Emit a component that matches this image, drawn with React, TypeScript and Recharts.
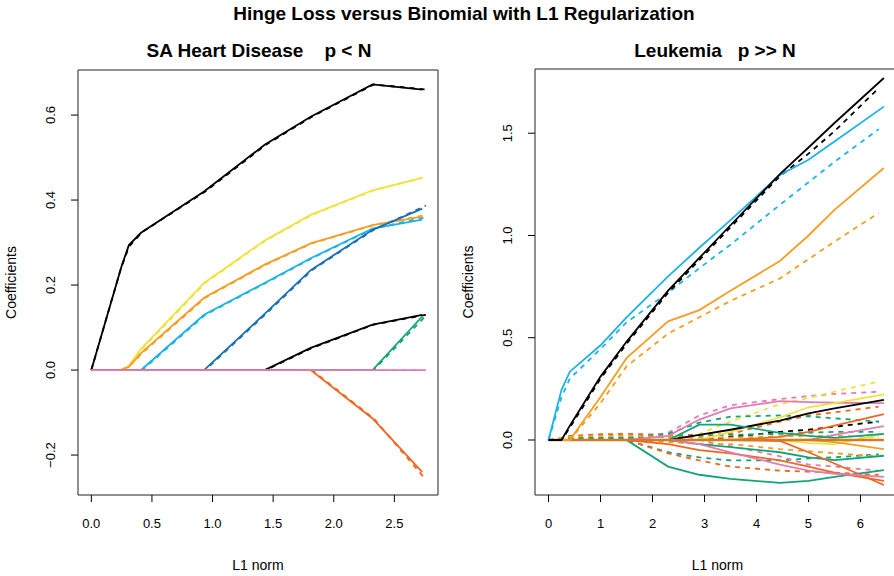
import React from 'react';
import { LineChart, Line, XAxis, YAxis, ReferenceArea } from 'recharts';

// ---- SA Heart Disease (p < N) ----
const HEART_L1 = [0, 0.25, 0.31, 0.41, 0.93, 1.43, 1.81, 2.32, 2.73];
const HEART_L1_BIN = [0, 0.24, 0.31, 0.42, 0.94, 1.44, 1.82, 2.33, 2.76];

const heartBlack = [0, 0.245, 0.294, 0.323, 0.42, 0.53, 0.596, 0.672, 0.66];
const heartYellow = [0, 0, 0.01, 0.05, 0.205, 0.305, 0.365, 0.423, 0.452];
const heartOrange = [0, 0, 0.008, 0.04, 0.17, 0.248, 0.298, 0.341, 0.361];
const heartSky = [0, 0, 0, 0, 0.13, 0.205, 0.263, 0.333, 0.354];
const heartBlue = [0, 0, 0, 0, 0, 0.132, 0.235, 0.33, 0.38];
const heartBlack2 = [0, 0, 0, 0, 0, 0, 0.052, 0.107, 0.13];
const heartGreen = [0, 0, 0, 0, 0, 0, 0, 0, 0.126];
const heartRed = [0, 0, 0, 0, 0, 0, 0, -0.114, -0.24];
const heartPink = [0, 0, 0, 0, 0, 0, 0, 0, 0];

const heartBlackBin = [0, 0.235, 0.29, 0.325, 0.42, 0.53, 0.596, 0.672, 0.66];
const heartYellowBin = [0, 0, 0.01, 0.05, 0.205, 0.305, 0.365, 0.423, 0.455];
const heartOrangeBin = [0, 0, 0.008, 0.04, 0.17, 0.248, 0.298, 0.341, 0.365];
const heartSkyBin = [0, 0, 0, 0, 0.13, 0.205, 0.263, 0.333, 0.36];
const heartBlueBin = [0, 0, 0, 0, 0, 0.132, 0.235, 0.33, 0.387];
const heartBlack2Bin = [0, 0, 0, 0, 0, 0, 0.052, 0.107, 0.13];
const heartGreenBin = [0, 0, 0, 0, 0, 0, 0, 0, 0.128];
const heartRedBin = [0, 0, 0, 0, 0, 0, 0, -0.114, -0.258];

const HEART_X_TICKS = [0, 0.5, 1, 1.5, 2, 2.5];
const HEART_X_LABELS = ['0.0', '0.5', '1.0', '1.5', '2.0', '2.5'];
const HEART_Y_TICKS = [-0.2, 0, 0.2, 0.4, 0.6];
const HEART_Y_LABELS = ['\u22120.2', '0.0', '0.2', '0.4', '0.6'];

// ---- Leukemia (p >> N) ----
const LEUK_L1 = [0, 0.25, 0.41, 1.0, 1.5, 2.3, 2.9, 3.5, 4.45, 5.0, 5.5, 6.45];
const LEUK_L1_BIN = [0, 0.25, 0.41, 1.0, 1.5, 2.3, 2.9, 3.5, 4.45, 5.0, 5.5, 6.35];

const leukBlack = [0, 0, 0.07, 0.31, 0.48, 0.73, 0.89, 1.05, 1.3, 1.43, 1.55, 1.77];
const leukBlackBin = [0, 0, 0.06, 0.3, 0.47, 0.72, 0.88, 1.04, 1.29, 1.4, 1.51, 1.72];
const leukSky = [0, 0.245, 0.334, 0.463, 0.6, 0.8, 0.94, 1.075, 1.296, 1.37, 1.46, 1.63];
const leukSkyBin = [0, 0.21, 0.3, 0.445, 0.575, 0.72, 0.84, 0.955, 1.15, 1.26, 1.36, 1.52];
const leukOrange = [0, 0, 0, 0.21, 0.4, 0.58, 0.635, 0.73, 0.875, 1.0, 1.125, 1.33];
const leukOrangeBin = [0, 0, 0, 0.18, 0.36, 0.52, 0.6, 0.68, 0.79, 0.884, 0.97, 1.11];

const leukPinkUp = [0, 0, 0, 0, 0, 0.02, 0.1, 0.155, 0.19, 0.185, 0.182, 0.18];
const leukPinkUpBin = [0, 0, 0, 0, 0.005, 0.035, 0.12, 0.17, 0.2, 0.215, 0.225, 0.236];
const leukYellowUp = [0, 0, 0, 0, 0, 0, 0, 0.04, 0.11, 0.16, 0.18, 0.223];
const leukYellowUpBin = [0, 0, 0, 0, 0, 0, 0.03, 0.09, 0.175, 0.205, 0.237, 0.285];
const leukYellowLow = [0, 0, 0, 0, 0, 0, 0, 0, 0, -0.015, -0.02, 0.03];
const leukBlackSm = [0, 0, 0, 0, 0, 0, 0.025, 0.05, 0.095, 0.13, 0.155, 0.196];
const leukBlackSmBin = [0, 0, 0, 0, 0, 0, 0, 0.015, 0.04, 0.05, 0.065, 0.09];
const leukRedUp = [0, 0, 0, 0, 0, 0, 0, 0, 0.015, 0.04, 0.07, 0.126];
const leukRedUpBin = [0, 0.01, 0.02, 0.028, 0.03, 0.025, 0.025, 0.03, 0.09, 0.12, 0.135, 0.163];
const leukPinkEnd = [0, 0, 0, 0, 0, 0, 0, 0, 0, 0, 0.025, 0.068];
const leukGreenUp = [0, 0, 0, 0, 0, 0, 0.075, 0.075, 0.035, 0.02, 0.01, 0.03];
const leukGreenUpBin = [0, 0.005, 0.01, 0.01, 0.012, 0.03, 0.085, 0.114, 0.12, 0.115, 0.106, 0.09];
const leukGreenSmBin = [0, 0.005, 0.008, 0.01, 0.01, 0.015, 0.02, 0.025, 0.03, 0.035, 0.04, 0.04];
const leukAmberSmBin = [0, 0.008, 0.015, 0.02, 0.02, 0.015, 0.01, 0.012, 0.018, 0.02, 0.02, 0.015];
const leukGreenMid = [0, 0, 0, 0, 0, 0, -0.02, -0.035, -0.06, -0.085, -0.098, -0.077];
const leukGreenLow = [0, 0, 0, 0, 0, -0.13, -0.17, -0.19, -0.21, -0.2, -0.18, -0.147];
const leukGreenLowBin = [0, 0, 0, 0, 0, -0.06, -0.085, -0.1, -0.1, -0.09, -0.085, -0.07];
const leukRedLowBin = [0, 0, 0, 0, 0, -0.065, -0.1, -0.13, -0.15, -0.155, -0.16, -0.17];
const leukRedA = [0, 0, 0, 0, 0, -0.02, -0.05, -0.065, -0.1, -0.13, -0.16, -0.2];
const leukRedB = [0, 0, 0, 0, 0, 0, 0, 0, -0.005, -0.06, -0.115, -0.22];
const leukPinkLow = [0, 0, 0, 0, 0, 0, -0.02, -0.06, -0.12, -0.15, -0.165, -0.18];
const leukPinkLowBin = [0, 0, 0, 0, 0, 0, 0, -0.03, -0.08, -0.12, -0.13, -0.15];
const leukAmberLow = [0, 0, 0, 0, 0, 0, 0, 0, 0, 0, -0.01, -0.045];
const leukAmberLowBin = [0, 0, 0, 0, 0, -0.01, -0.02, -0.02, -0.045, -0.055, -0.065, -0.08];
const leukZero = [0, 0, 0, 0, 0, 0, 0, 0, 0, 0, 0, 0];

const LEUK_X_TICKS = [0, 1, 2, 3, 4, 5, 6];
const LEUK_X_LABELS = ['0', '1', '2', '3', '4', '5', '6'];
const LEUK_Y_TICKS = [0, 0.5, 1, 1.5];
const LEUK_Y_LABELS = ['0.0', '0.5', '1.0', '1.5'];

const C = {
  black: '#000000',
  yellow: '#EEE33C',
  orange: '#F59E23',
  sky: '#1BB3E6',
  blue: '#1B70B3',
  green: '#13A37A',
  red: '#F2661F',
  pink: '#E27CB2',
  zero: '#D47A22',
};

type Series = { xs: number[]; ys: number[]; color: string; dash?: boolean; w?: number };

const heartSeries: Series[] = [
  { xs: HEART_L1_BIN, ys: heartBlackBin, color: C.black, dash: true },
  { xs: HEART_L1_BIN, ys: heartYellowBin, color: C.yellow, dash: true },
  { xs: HEART_L1_BIN, ys: heartOrangeBin, color: C.orange, dash: true },
  { xs: HEART_L1_BIN, ys: heartSkyBin, color: C.sky, dash: true },
  { xs: HEART_L1_BIN, ys: heartBlueBin, color: C.blue, dash: true },
  { xs: HEART_L1_BIN, ys: heartBlack2Bin, color: C.black, dash: true },
  { xs: HEART_L1_BIN, ys: heartGreenBin, color: C.green, dash: true },
  { xs: HEART_L1_BIN, ys: heartRedBin, color: C.red, dash: true },
  { xs: HEART_L1_BIN, ys: heartPink, color: C.pink, dash: true },
  { xs: HEART_L1, ys: heartBlack, color: C.black },
  { xs: HEART_L1, ys: heartYellow, color: C.yellow },
  { xs: HEART_L1, ys: heartOrange, color: C.orange },
  { xs: HEART_L1, ys: heartSky, color: C.sky },
  { xs: HEART_L1, ys: heartBlue, color: C.blue },
  { xs: HEART_L1, ys: heartBlack2, color: C.black },
  { xs: HEART_L1, ys: heartGreen, color: C.green },
  { xs: HEART_L1, ys: heartRed, color: C.red },
  { xs: HEART_L1, ys: heartPink, color: C.pink },
];

const leukSeries: Series[] = [
  { xs: LEUK_L1_BIN, ys: leukPinkUpBin, color: C.pink, dash: true },
  { xs: LEUK_L1_BIN, ys: leukYellowUpBin, color: C.yellow, dash: true },
  { xs: LEUK_L1_BIN, ys: leukBlackSmBin, color: C.black, dash: true },
  { xs: LEUK_L1_BIN, ys: leukRedUpBin, color: C.red, dash: true },
  { xs: LEUK_L1_BIN, ys: leukGreenUpBin, color: C.green, dash: true },
  { xs: LEUK_L1_BIN, ys: leukGreenSmBin, color: C.green, dash: true },
  { xs: LEUK_L1_BIN, ys: leukAmberSmBin, color: C.orange, dash: true },
  { xs: LEUK_L1_BIN, ys: leukGreenLowBin, color: C.green, dash: true },
  { xs: LEUK_L1_BIN, ys: leukRedLowBin, color: C.red, dash: true },
  { xs: LEUK_L1_BIN, ys: leukPinkLowBin, color: C.pink, dash: true },
  { xs: LEUK_L1_BIN, ys: leukAmberLowBin, color: C.orange, dash: true },
  { xs: LEUK_L1, ys: leukPinkUp, color: C.pink },
  { xs: LEUK_L1, ys: leukYellowUp, color: C.yellow },
  { xs: LEUK_L1, ys: leukYellowLow, color: C.yellow },
  { xs: LEUK_L1, ys: leukBlackSm, color: C.black },
  { xs: LEUK_L1, ys: leukRedUp, color: C.red },
  { xs: LEUK_L1, ys: leukPinkEnd, color: C.pink },
  { xs: LEUK_L1, ys: leukGreenUp, color: C.green },
  { xs: LEUK_L1, ys: leukGreenMid, color: C.green },
  { xs: LEUK_L1, ys: leukGreenLow, color: C.green },
  { xs: LEUK_L1, ys: leukRedA, color: C.red },
  { xs: LEUK_L1, ys: leukRedB, color: C.red },
  { xs: LEUK_L1, ys: leukPinkLow, color: C.pink },
  { xs: LEUK_L1, ys: leukAmberLow, color: C.orange },
  { xs: LEUK_L1, ys: leukZero, color: C.zero, w: 2.6 },
  { xs: LEUK_L1_BIN, ys: leukOrangeBin, color: C.orange, dash: true },
  { xs: LEUK_L1_BIN, ys: leukSkyBin, color: C.sky, dash: true },
  { xs: LEUK_L1_BIN, ys: leukBlackBin, color: C.black, dash: true },
  { xs: LEUK_L1, ys: leukOrange, color: C.orange },
  { xs: LEUK_L1, ys: leukSky, color: C.sky },
  { xs: LEUK_L1, ys: leukBlack, color: C.black },
];

const pts = (xs: number[], ys: number[]) => xs.map((x, i) => ({ x, y: ys[i] }));

const FONT = '"Liberation Sans", Arial, Helvetica, sans-serif';

// rotated y tick labels, R style (parallel to the axis)
function YTick(props: any) {
  const { x, y, payload, ticks, labels } = props;
  const tx = x - 14;
  const label = labels[ticks.indexOf(payload.value)] ?? String(payload.value);
  return (
    <text x={tx} y={y} transform={`rotate(-90 ${tx} ${y})`} textAnchor="middle" fontSize={13} fill="#000">
      {label}
    </text>
  );
}

function Panel(props: {
  left: number;
  width: number;
  top: number;
  right: number;
  xDomain: [number, number];
  yDomain: [number, number];
  xTicks: number[];
  xLabels: string[];
  yTicks: number[];
  yLabels: string[];
  series: Series[];
}) {
  const { left, width, top, right, xDomain, yDomain, xTicks, xLabels, yTicks, yLabels, series } = props;
  return (
    <div style={{ position: 'absolute', left, top: 0 }}>
      <LineChart width={width} height={576} margin={{ top, right, bottom: 0, left: 0 }}>
        <XAxis
          type="number"
          dataKey="x"
          domain={xDomain}
          ticks={xTicks}
          interval={0}
          allowDataOverflow
          axisLine={false}
          tickLine={{ stroke: '#000' }}
          tickSize={7}
          tickMargin={17}
          height={81}
          tick={{ fill: '#000', fontSize: 13 }}
          tickFormatter={(v: number) => xLabels[xTicks.indexOf(v)] ?? String(v)}
          label={{
            content: ({ viewBox }: any) => (
              <text x={viewBox.x + viewBox.width / 2} y={viewBox.y + 75} textAnchor="middle" fontSize={14} fill="#000">
                L1 norm
              </text>
            ),
          }}
        />
        <YAxis
          type="number"
          domain={yDomain}
          ticks={yTicks}
          interval={0}
          allowDataOverflow
          width={78}
          axisLine={false}
          tickLine={{ stroke: '#000' }}
          tickSize={7}
          tick={(p: any) => <YTick {...p} ticks={yTicks} labels={yLabels} />}
          label={{
            content: ({ viewBox }: any) => {
              const lx = viewBox.x + 16;
              const ly = viewBox.y + viewBox.height / 2;
              return (
                <text x={lx} y={ly} transform={`rotate(-90 ${lx} ${ly})`} textAnchor="middle" fontSize={14} fill="#000">
                  Coefficients
                </text>
              );
            },
          }}
        />
        <ReferenceArea
          x1={xDomain[0]}
          x2={xDomain[1]}
          y1={yDomain[0]}
          y2={yDomain[1]}
          fill="none"
          fillOpacity={0}
          stroke="#222"
          strokeWidth={1}
          ifOverflow="visible"
        />
        {series.map((s, i) => (
          <Line
            key={i}
            data={pts(s.xs, s.ys)}
            dataKey="y"
            type="linear"
            stroke={s.color}
            strokeWidth={s.w ?? 1.8}
            strokeDasharray={s.dash ? '5 5' : undefined}
            dot={false}
            activeDot={false}
            isAnimationActive={false}
          />
        ))}
      </LineChart>
    </div>
  );
}

const headStyle: React.CSSProperties = {
  position: 'absolute',
  width: 500,
  textAlign: 'center',
  fontSize: 19,
  fontWeight: 'bold',
  lineHeight: '22px',
  whiteSpace: 'pre',
};

export default function App() {
  return (
    <div
      style={{
        position: 'absolute',
        left: 0,
        top: 0,
        width: 894,
        height: 576,
        overflow: 'hidden',
        background: '#fff',
        fontFamily: FONT,
        color: '#000',
      }}
    >
      <div style={{ ...headStyle, left: 214, top: 3 }}>Hinge Loss versus Binomial with L1 Regularization</div>
      <div style={{ ...headStyle, left: 9, top: 40 }}>{'SA Heart Disease    p < N'}</div>
      <div style={{ ...headStyle, left: 465, top: 40 }}>{'Leukemia   p >> N'}</div>
      <Panel
        left={0}
        width={460}
        top={70}
        right={22}
        xDomain={[-0.11, 2.86]}
        yDomain={[-0.294, 0.706]}
        xTicks={HEART_X_TICKS}
        xLabels={HEART_X_LABELS}
        yTicks={HEART_Y_TICKS}
        yLabels={HEART_Y_LABELS}
        series={heartSeries}
      />
      <Panel
        left={457}
        width={460}
        top={69}
        right={17}
        xDomain={[-0.26, 6.76]}
        yDomain={[-0.269, 1.814]}
        xTicks={LEUK_X_TICKS}
        xLabels={LEUK_X_LABELS}
        yTicks={LEUK_Y_TICKS}
        yLabels={LEUK_Y_LABELS}
        series={leukSeries}
      />
    </div>
  );
}
